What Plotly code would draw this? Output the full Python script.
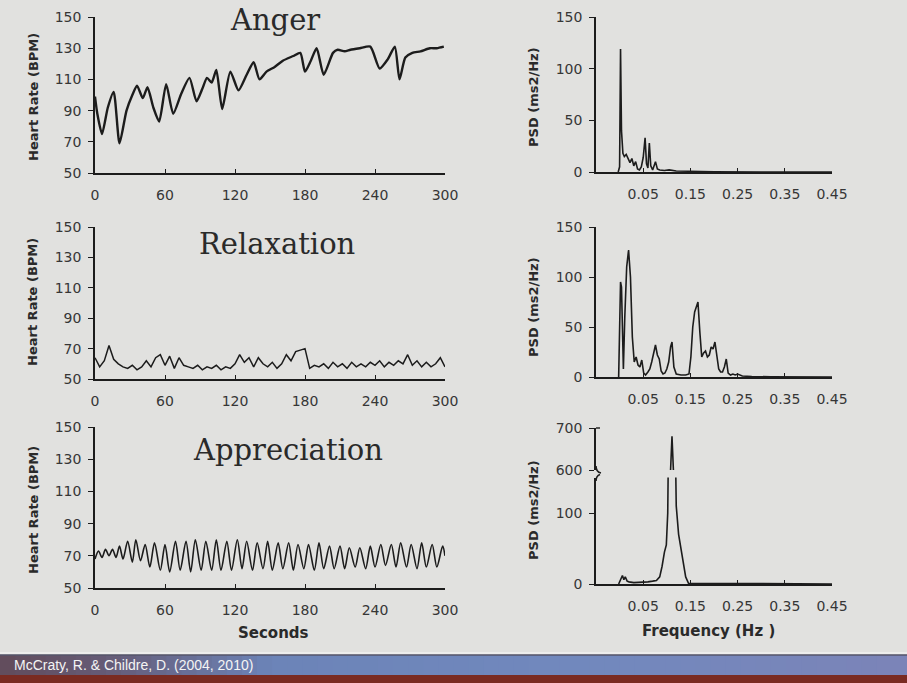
import plotly.graph_objects as go

W, H = 907, 683

# ---------------- data ----------------
anger_t = [0, 2, 6, 11, 16, 21, 27, 32, 36, 41, 45, 50, 55, 61, 67, 74, 81, 87, 92, 96,
           100, 104, 109, 116, 123, 130, 136, 141, 147, 154, 161, 170, 176, 180, 185, 190,
           196, 204, 208, 214, 219, 227, 236, 244, 251, 257, 261, 266, 272, 279, 287, 293, 299]
anger_hr = [99, 88, 75, 92, 102, 69, 90, 100, 106, 98, 105, 92, 83, 107, 88, 101, 111, 96, 104, 111,
            108, 116, 91, 115, 103, 113, 121, 110, 115, 118, 122, 125, 127, 115, 122, 130,
            113, 127, 129, 128, 129, 130, 131, 117, 123, 131, 110, 124, 127, 128, 130, 130, 131]

relax_t = [0, 4, 8, 12, 16, 20, 24, 28, 32, 36, 40, 44, 48, 52, 56, 60, 64, 68, 72, 76,
           80, 84, 88, 92, 96, 100, 104, 108, 112, 116, 120, 124, 128, 132, 136, 140, 144, 148, 152, 156,
           160, 164, 168, 172, 176, 180, 184, 188, 192, 196, 200, 204, 208, 212, 216, 220, 224, 228, 232, 236,
           240, 244, 248, 252, 256, 260, 264, 268, 272, 276, 280, 284, 288, 292, 296, 300]
relax_hr = [64, 58, 62, 72, 63, 60, 58, 57, 59, 56,
            58, 62, 58, 64, 66, 59, 65, 57, 64, 59,
            58, 57, 59, 56, 58, 57, 59, 56, 58, 57,
            60, 66, 61, 64, 58, 64, 60, 58, 61, 57,
            60, 66, 62, 68, 69, 70, 57, 59, 58, 60,
            57, 61, 58, 60, 57, 61, 58, 60, 58, 61,
            59, 62, 58, 61, 59, 62, 60, 66, 59, 62,
            58, 61, 58, 60, 64, 58]

appr_t = [0, 3, 6, 9, 12, 15, 18, 21, 24, 28, 32, 35, 39, 43, 47, 51, 56, 60, 64, 69,
          73, 78, 82, 86, 91, 95, 100, 104, 108, 113, 117, 122, 126, 130, 135, 139, 144, 148, 152, 157,
          161, 166, 170, 174, 179, 183, 188, 192, 196, 201, 205, 210, 214, 218, 223, 227, 232, 236, 240, 245,
          249, 254, 258, 262, 267, 271, 276, 280, 284, 289, 293, 298, 300]
appr_hr = [68, 73, 69, 74, 70, 74, 69, 76, 68, 79,
           66, 80, 67, 77, 63, 78, 61, 77, 60, 79,
           61, 79, 60, 80, 61, 79, 61, 80, 61, 79,
           61, 80, 62, 79, 61, 78, 62, 79, 61, 78,
           62, 78, 61, 77, 62, 77, 61, 78, 62, 76,
           62, 76, 62, 75, 63, 75, 62, 76, 63, 77,
           64, 77, 63, 78, 63, 77, 62, 78, 63, 77,
           63, 76, 70]

anger_f = [-0.003, 0.0, 0.002, 0.004, 0.007, 0.010, 0.014, 0.018, 0.022, 0.026, 0.030, 0.034, 0.038,
           0.042, 0.046, 0.050, 0.054, 0.057, 0.060, 0.063, 0.066, 0.070, 0.073, 0.076, 0.080, 0.085,
           0.095, 0.105, 0.12, 0.15, 0.2, 0.3, 0.45]
anger_psd = [0, 5, 119, 40, 18, 15, 17, 12, 9, 13, 6, 10, 3,
             2, 5, 14, 33, 8, 4, 28, 6, 2, 6, 10, 3, 2,
             1.5, 2, 1, 0.5, 0.3, 0, 0]

relax_f = [-0.002, 0.0, 0.002, 0.004, 0.006, 0.008, 0.011, 0.015, 0.019, 0.023,
           0.027, 0.031, 0.035, 0.039, 0.043, 0.047, 0.051, 0.055, 0.060, 0.064,
           0.068, 0.072, 0.076, 0.080, 0.084, 0.088, 0.092, 0.096, 0.100, 0.104,
           0.108, 0.111, 0.115, 0.120, 0.130, 0.140, 0.147, 0.151, 0.155, 0.159,
           0.163, 0.166, 0.170, 0.174, 0.178, 0.182, 0.186, 0.190, 0.194, 0.198,
           0.202, 0.206, 0.210, 0.214, 0.218, 0.222, 0.226, 0.230, 0.235, 0.240,
           0.245, 0.250, 0.26, 0.28, 0.32, 0.45]
relax_psd = [0, 60, 95, 90, 40, 8, 60, 110, 127, 100,
             40, 15, 20, 12, 10, 17, 4, 2, 5, 8,
             15, 25, 32, 22, 18, 6, 3, 4, 8, 15,
             30, 35, 10, 3, 2, 2, 3, 20, 50, 65,
             72, 75, 45, 20, 24, 26, 20, 22, 30, 28,
             35, 20, 8, 5, 5, 10, 18, 4, 2, 3,
             2, 3, 1, 0.5, 0.2, 0]

appr_f = [-0.002, 0.0, 0.003, 0.006, 0.009, 0.012, 0.016, 0.02, 0.03, 0.04, 0.05, 0.06, 0.07,
          0.078, 0.085, 0.090, 0.095, 0.099, 0.102, 0.105, 0.108, 0.111, 0.114, 0.117, 0.120,
          0.125, 0.130, 0.134, 0.140, 0.146, 0.2, 0.3, 0.45]
appr_psd = [0, 3, 8, 12, 6, 10, 4, 3, 2, 2, 3, 3, 4,
            5, 10, 25, 45, 55, 100, 300, 600, 680, 600, 250, 110,
            70, 50, 35, 10, 1, 1, 0.5, 0]

panel_titles = ["Anger", "Relaxation", "Appreciation"]
hr_ticks = [50, 70, 90, 110, 130, 150]
sec_ticks = [0, 60, 120, 180, 240, 300]
freq_ticks = [0.05, 0.15, 0.25, 0.35, 0.45]
freq_labels = ["0.05", "0.15", "0.25", "0.35", "0.45"]
psd_ticks = [0, 50, 100, 150]

# ---------------- helpers ----------------
def px(x):
    return x / W

def py(y):
    return 1 - y / H

INK = "#1c1c1c"
TXT = "#363636"
BG = "#e1e1df"
TICKFONT = dict(family="DejaVu Sans", size=14, color=TXT)

fig = go.Figure()

fig.add_trace(go.Scatter(x=anger_t, y=anger_hr, mode="lines", line=dict(color=INK, width=2.4, shape="spline", smoothing=0.6), xaxis="x", yaxis="y"))
fig.add_trace(go.Scatter(x=anger_f, y=anger_psd, mode="lines", line=dict(color=INK, width=1.6), xaxis="x2", yaxis="y2"))
fig.add_trace(go.Scatter(x=relax_t, y=relax_hr, mode="lines", line=dict(color=INK, width=1.5), xaxis="x3", yaxis="y3"))
fig.add_trace(go.Scatter(x=relax_f, y=relax_psd, mode="lines", line=dict(color=INK, width=1.6), xaxis="x4", yaxis="y4"))
fig.add_trace(go.Scatter(x=appr_t, y=appr_hr, mode="lines", line=dict(color=INK, width=1.6, shape="spline", smoothing=0.8), xaxis="x5", yaxis="y5"))
fig.add_trace(go.Scatter(x=appr_f, y=appr_psd, mode="lines", line=dict(color=INK, width=1.6), xaxis="x6", yaxis="y6"))
fig.add_trace(go.Scatter(x=appr_f, y=appr_psd, mode="lines", line=dict(color=INK, width=1.6), xaxis="x7", yaxis="y7"))

def xax(dom, rng, tickvals, ticktext=None, visible=True, anchor=None):
    d = dict(domain=dom, range=rng, tickvals=tickvals, showline=visible, linecolor=INK, linewidth=1.6,
             ticks="inside" if visible else "", ticklen=4, tickwidth=1.3, tickcolor=INK,
             showgrid=False, zeroline=False, tickfont=TICKFONT, ticklabelstandoff=8,
             showticklabels=visible, fixedrange=True, anchor=anchor, automargin=False)
    if ticktext is not None:
        d["ticktext"] = ticktext
    return d

def yax(dom, rng, tickvals, anchor):
    return dict(domain=dom, range=rng, tickvals=tickvals, showline=True, linecolor=INK, linewidth=1.6,
                ticks="outside", ticklen=5, tickwidth=1.3, tickcolor=INK, showgrid=False,
                zeroline=False, tickfont=TICKFONT, ticklabelstandoff=4, fixedrange=True, anchor=anchor,
                automargin=False)

LX = [px(95), px(445)]
RX = [px(596), px(832)]
rows_left = [[py(173), py(17)], [py(379), py(227)], [py(588), py(427)]]
rows_right = [[py(172), py(17)], [py(377), py(227)]]
low_br = [py(584), py(477.5)]
up_br = [py(470), py(428)]

layout = dict(
    width=W, height=H, autosize=False,
    margin=dict(l=0, r=0, t=0, b=0, pad=0, autoexpand=False),
    paper_bgcolor=BG, plot_bgcolor="rgba(0,0,0,0)", showlegend=False,
    xaxis=xax(LX, [0, 300], sec_ticks, anchor="y"),
    yaxis=yax(rows_left[0], [50, 150], hr_ticks, "x"),
    xaxis2=xax(RX, [-0.05, 0.45], freq_ticks, freq_labels, anchor="y2"),
    yaxis2=yax(rows_right[0], [0, 150], psd_ticks, "x2"),
    xaxis3=xax(LX, [0, 300], sec_ticks, anchor="y3"),
    yaxis3=yax(rows_left[1], [50, 150], hr_ticks, "x3"),
    xaxis4=xax(RX, [-0.05, 0.45], freq_ticks, freq_labels, anchor="y4"),
    yaxis4=yax(rows_right[1], [0, 150], psd_ticks, "x4"),
    xaxis5=xax(LX, [0, 300], sec_ticks, anchor="y5"),
    yaxis5=yax(rows_left[2], [50, 150], hr_ticks, "x5"),
    xaxis6=xax(RX, [-0.05, 0.45], freq_ticks, freq_labels, anchor="y6"),
    yaxis6=yax(low_br, [0, 150], [0, 100], "x6"),
    xaxis7=xax(RX, [-0.05, 0.45], freq_ticks, freq_labels, visible=False, anchor="y7"),
    yaxis7=yax(up_br, [600, 700], [600, 700], "x7"),
)
fig.update_layout(**layout)

ann = []
for title, (cx, cy) in zip(panel_titles, [(275, 20), (277, 244), (288, 450)]):
    ann.append(dict(text=title, x=px(cx), y=py(cy), xref="paper", yref="paper", showarrow=False,
                    xanchor="center", yanchor="middle",
                    font=dict(family="DejaVu Serif", size=29, color="#2a2a2a")))
for cy in [97, 302, 510]:
    ann.append(dict(text="Heart Rate (BPM)", x=px(33), y=py(cy), xref="paper", yref="paper",
                    showarrow=False, textangle=-90, xanchor="center", yanchor="middle",
                    font=dict(family="DejaVu Sans", size=13, color="#2a2a2a", weight="bold")))
for cy in [97, 307, 510]:
    ann.append(dict(text="PSD (ms2/Hz)", x=px(533), y=py(cy), xref="paper", yref="paper",
                    showarrow=False, textangle=-90, xanchor="center", yanchor="middle",
                    font=dict(family="DejaVu Sans", size=13, color="#2a2a2a", weight="bold")))
ann.append(dict(text="Seconds", x=px(273), y=py(633), xref="paper", yref="paper", showarrow=False,
                xanchor="center", yanchor="middle",
                font=dict(family="DejaVu Sans", size=15, color="#2a2a2a", weight="bold")))
ann.append(dict(text="Frequency (Hz )", x=px(708), y=py(631), xref="paper", yref="paper", showarrow=False,
                xanchor="center", yanchor="middle",
                font=dict(family="DejaVu Sans", size=15, color="#2a2a2a", weight="bold")))
ann.append(dict(text="McCraty, R. &amp; Childre, D. (2004, 2010)", x=px(12), y=py(665), xref="paper", yref="paper",
                showarrow=False, xanchor="left", yanchor="middle",
                font=dict(family="Liberation Sans", size=14, color="#f4f4f4")))
fig.update_layout(annotations=ann)

# ---------------- decorations: banner and axis break ----------------
shapes = []
stops = [(0.0, (0x62, 0x4c, 0x5c)), (0.12, (0x66, 0x5c, 0x78)), (0.30, (0x6c, 0x84, 0xb8)),
         (0.65, (0x72, 0x89, 0xbe)), (1.0, (0x7c, 0x84, 0xb8))]

def grad(t):
    for (a, ca), (b, cb) in zip(stops[:-1], stops[1:]):
        if a <= t <= b:
            u = (t - a) / (b - a)
            return "rgb(%d,%d,%d)" % tuple(int(ca[i] + (cb[i] - ca[i]) * u) for i in range(3))
    return "rgb(124,132,184)"

N = 60
for i in range(N):
    x0, x1 = i / N, (i + 1) / N + 0.002
    shapes.append(dict(type="rect", xref="paper", yref="paper", x0=x0, x1=x1, y0=py(675), y1=py(655),
                       line=dict(width=0), fillcolor=grad((i + 0.5) / N), layer="below"))
shapes.append(dict(type="rect", xref="paper", yref="paper", x0=0, x1=1, y0=0, y1=py(675),
                   line=dict(width=0), fillcolor="#7a2b22", layer="below"))
shapes.append(dict(type="line", xref="paper", yref="paper", x0=0, x1=1, y0=py(655), y1=py(655),
                   line=dict(color="#55556a", width=1.5), layer="below"))
shapes.append(dict(type="line", xref="paper", yref="paper", x0=0, x1=1, y0=py(653), y1=py(653),
                   line=dict(color="#f0f0f0", width=1.5), layer="below"))
shapes.append(dict(type="path", xref="paper", yref="paper",
                   path="M %f,%f Q %f,%f %f,%f" % (px(596), py(466), px(596), py(472), px(601), py(473)),
                   line=dict(color=INK, width=1.6)))
shapes.append(dict(type="path", xref="paper", yref="paper",
                   path="M %f,%f Q %f,%f %f,%f" % (px(596), py(481), px(596), py(476), px(600), py(474.5)),
                   line=dict(color=INK, width=1.6)))
shapes.append(dict(type="line", xref="paper", yref="paper", x0=px(596), x1=px(600), y0=py(428), y1=py(428),
                   line=dict(color=INK, width=1.4)))
fig.update_layout(shapes=shapes)

post = (
    "document.documentElement.style.margin='0';document.documentElement.style.padding='0';"
    "document.documentElement.style.overflow='hidden';"
    "document.body.style.margin='0';document.body.style.padding='0';document.body.style.overflow='hidden';"
    "document.body.style.background='" + BG + "';"
    "var gd=document.getElementById('{plot_id}');"
    "Plotly.relayout(gd,{width:%d,height:%d});" % (W, H)
)
fig.write_html("out.html", config={"displayModeBar": False, "responsive": False}, post_script=post)
